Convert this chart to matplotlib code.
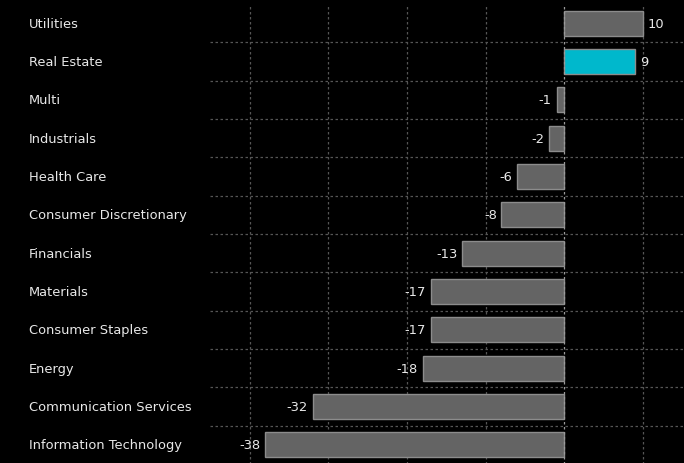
import matplotlib.pyplot as plt
import matplotlib.transforms as mtransforms
import numpy as np

sectors = ['Utilities', 'Real Estate', 'Multi', 'Industrials', 'Health Care',
           'Consumer Discretionary', 'Financials', 'Materials', 'Consumer Staples',
           'Energy', 'Communication Services', 'Information Technology']
values = [10, 9, -1, -2, -6, -8, -13, -17, -17, -18, -32, -38]
highlight = 'Real Estate'


def main():
	fig = plt.figure(figsize=(6.84, 4.64), dpi=100, facecolor='black')
	ax = fig.add_axes([210 / 684, -1 / 464, 474 / 684, 460 / 464])
	ax.set_facecolor('black')

	y = np.arange(len(sectors))
	colors = ['#00b8cc' if s == highlight else '#646464' for s in sectors]
	ax.barh(y, values, height=0.65, color=colors, edgecolor='#8c8c8c', linewidth=1, zorder=3)

	ax.set_xlim(-45.05, 15.2)
	ax.set_ylim(len(sectors) - 0.5, -0.5)

	# dotted grid: verticals at every 10, horizontals between rows
	for xv in range(-40, 20, 10):
		ax.axvline(xv, ymax=0.995, color='#555555' if xv else '#9a9a9a', linestyle=(0, (2, 2)),
				   linewidth=0.9, zorder=1 if xv else 4)
	for yb in y[:-1] + 0.5:
		ax.axhline(yb, color='#555555', linestyle=(0, (2, 2)), linewidth=0.9, zorder=1)

	for yi, v in zip(y, values):
		if v >= 0:
			ax.text(v + 0.6, yi, str(v), color='#e8e8e8', fontsize=9.4, va='center', ha='left', zorder=5)
		else:
			ax.text(v - 0.6, yi, str(v), color='#e8e8e8', fontsize=9.4, va='center', ha='right', zorder=5)

	trans = mtransforms.blended_transform_factory(fig.transFigure, ax.transData)
	for yi, s in zip(y, sectors):
		ax.text(29 / 684, yi, s, color='#e8e8e8', fontsize=9.4, va='center', ha='left',
				transform=trans, clip_on=False)

	[ax.spines[sp].set_visible(False) for sp in ax.spines]
	ax.set_xticks([])
	ax.set_yticks([])

	fig.savefig('out.png', dpi=100, facecolor='black')


if __name__ == '__main__':
	main()
